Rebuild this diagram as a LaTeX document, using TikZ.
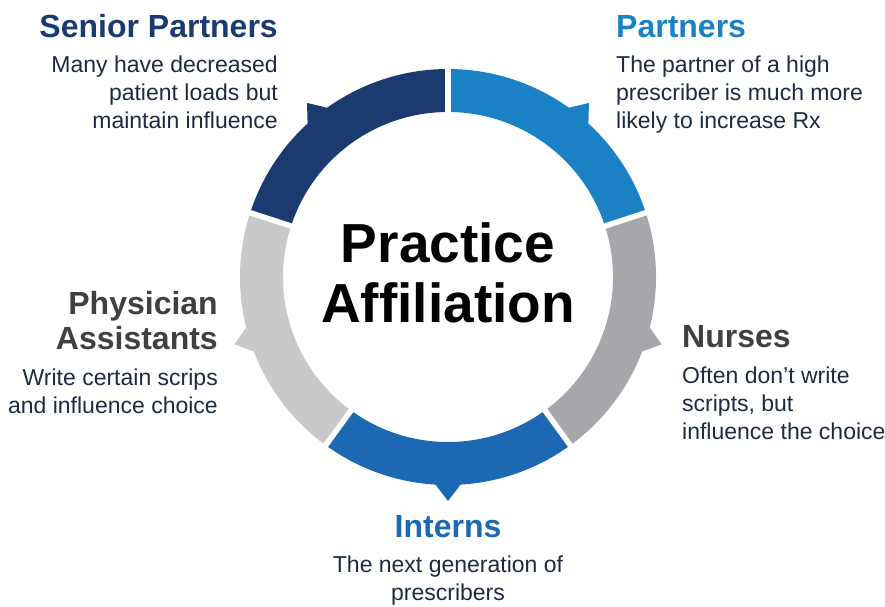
\documentclass[tikz,border=0pt]{standalone}
\usepackage{fontspec}
\setmainfont{Liberation Sans}
\usepackage{tikz}
\definecolor{seniorblue}{RGB}{27,59,112}
\definecolor{partnerblue}{RGB}{26,130,196}
\definecolor{internblue}{RGB}{28,104,178}
\definecolor{nursegrey}{RGB}{166,167,170}
\definecolor{assistgrey}{RGB}{201,201,201}
\definecolor{headgrey}{RGB}{64,64,64}
\definecolor{bodynavy}{RGB}{29,42,68}
\tikzset{
  heading/.style={font=\fontsize{32}{35}\selectfont\bfseries, inner sep=0pt},
  bodytext/.style={font=\fontsize{23}{28}\selectfont, text=bodynavy, inner sep=0pt},
  gapline/.style={white, line width=5.5pt}
}

\begin{document}
\begin{tikzpicture}[x=1pt,y=1pt]
       \useasboundingbox (-448,-329) rectangle (437,277);
       % ring segments
       \fill[partnerblue] (18:208) arc[start angle=18, end angle=90, radius=208] -- (90:165) arc[start angle=90, end angle=18, radius=165] -- cycle;
       \fill[partnerblue] (47.3:207) -- (51:224) -- (54.7:207) -- cycle;
       \fill[nursegrey] (-54:208) arc[start angle=-54, end angle=18, radius=208] -- (18:165) arc[start angle=18, end angle=-54, radius=165] -- cycle;
       \fill[nursegrey] (-21.2:207) -- (-17.5:224) -- (-13.8:207) -- cycle;
       \fill[internblue] (-126:208) arc[start angle=-126, end angle=-54, radius=208] -- (-54:165) arc[start angle=-54, end angle=-126, radius=165] -- cycle;
       \fill[internblue] (-93.7:207) -- (-90:224) -- (-86.3:207) -- cycle;
       \fill[assistgrey] (162:208) arc[start angle=162, end angle=234, radius=208] -- (234:165) arc[start angle=234, end angle=162, radius=165] -- cycle;
       \fill[assistgrey] (193.8:207) -- (197.5:224) -- (201.2:207) -- cycle;
       \fill[seniorblue] (90:208) arc[start angle=90, end angle=162, radius=208] -- (162:165) arc[start angle=162, end angle=90, radius=165] -- cycle;
       \fill[seniorblue] (125.3:207) -- (129:224) -- (132.7:207) -- cycle;
       % white gaps
       \draw[gapline] (90:160) -- (90:215);
       \draw[gapline] (18:160) -- (18:215);
       \draw[gapline] (-54:160) -- (-54:215);
       \draw[gapline] (-126:160) -- (-126:215);
       \draw[gapline] (162:160) -- (162:215);
       % centre
       \node[font=\fontsize{55}{60}\selectfont\bfseries, align=center, anchor=base, inner sep=0pt] at (0,-45) (title) {Practice\\Affiliation};
       % labels (base anchor sits on the last line)
       \node[heading, text=seniorblue, anchor=base east] at (-170,240) (sphead) {Senior Partners};
       \node[bodytext, align=right, anchor=base east] at (-170,149) (sptext) {Many have decreased\\patient loads but\\maintain influence};
       \node[heading, text=partnerblue, anchor=base west] at (168,240) (phead) {Partners};
       \node[bodytext, align=left, anchor=base west] at (168,149) (ptext) {The partner of a high\\prescriber is much more\\likely to increase Rx};
       \node[heading, text=headgrey, align=right, anchor=base east] at (-230,-72) (pahead) {Physician\\Assistants};
       \node[bodytext, align=right, anchor=base east] at (-230,-136) (patext) {Write certain scrips\\and influence choice};
       \node[heading, text=headgrey, anchor=base west] at (234,-70) (nhead) {Nurses};
       \node[bodytext, align=left, anchor=base west] at (234,-162) (ntext) {Often don’t write\\scripts, but\\influence the choice};
       \node[heading, text=internblue, anchor=base] at (0,-260) (ihead) {Interns};
       \node[bodytext, align=center, anchor=base] at (0,-323) (itext) {The next generation of\\prescribers};
\end{tikzpicture}
\end{document}
